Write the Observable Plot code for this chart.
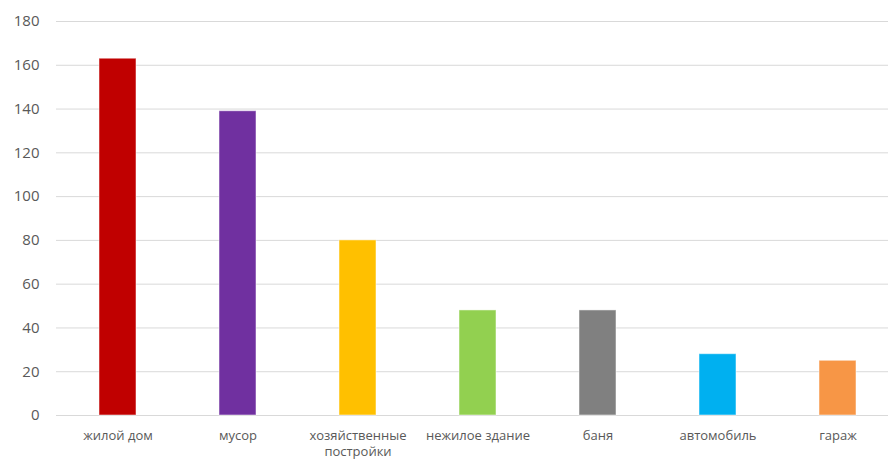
<!DOCTYPE html>
<html>
<head>
<meta charset="utf-8">
<script src="https://cdn.jsdelivr.net/npm/d3@7"></script>
<script src="https://cdn.jsdelivr.net/npm/@observablehq/plot@0.6"></script>
<style>
  html, body { margin: 0; padding: 0; background: #fff; overflow: hidden; }
  svg { display: block; }
</style>
</head>
<body>
<div id="chart"></div>
<script>
const categories = ["жилой дом", "мусор", "хозяйственные постройки", "нежилое здание", "баня", "автомобиль", "гараж"];
const tickLabels = ["жилой дом", "мусор", "хозяйственные\nпостройки", "нежилое здание", "баня", "автомобиль", "гараж"];
const values = [163, 139, 80, 48, 48, 28, 25];
const colors = ["#C00000", "#7030A0", "#FFC000", "#92D050", "#808080", "#00B0F0", "#F79646"];
const yTicks = [0, 20, 40, 60, 80, 100, 120, 140, 160, 180];

const data = categories.map((c, i) => ({category: c, value: values[i]}));

const chart = Plot.plot({
  width: 888,
  height: 459,
  marginLeft: 56,
  marginRight: 0,
  marginTop: 21,
  marginBottom: 44,
  style: {fontFamily: "'Open Sans', sans-serif", color: "#595959", background: "#fff"},
  x: {domain: categories, range: [56, 900], paddingInner: 0.69, paddingOuter: 0.345, label: null},
  y: {domain: [0, 180], label: null},
  color: {domain: categories, range: colors},
  marks: [
    Plot.gridY(yTicks, {stroke: "#d9d9d9", strokeOpacity: 1, strokeWidth: 1}),
    Plot.barY(data, {x: "category", y: "value", fill: "category", stroke: "#ffffff", strokeOpacity: 0.5, strokeWidth: 1}),
    Plot.axisY(yTicks, {tickSize: 0, tickPadding: 17, fontSize: 15, fill: "#595959"}),
    Plot.axisX({tickSize: 0, tickPadding: 12, fontSize: 13, fill: "#595959", tickFormat: (d) => tickLabels[categories.indexOf(d)], lineHeight: 1.3})
  ]
});
document.getElementById("chart").appendChild(chart);
</script>
</body>
</html>
